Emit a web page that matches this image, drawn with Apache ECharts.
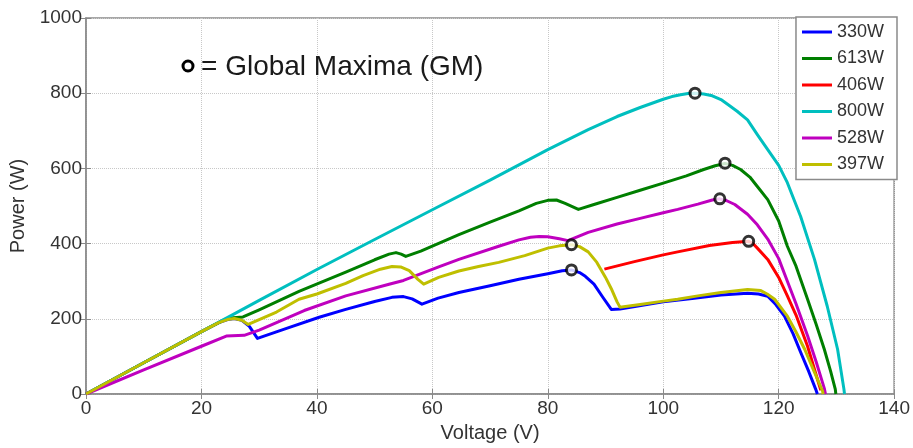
<!DOCTYPE html>
<html>
<head>
<meta charset="utf-8">
<script src="https://cdn.jsdelivr.net/npm/echarts@6/dist/echarts.min.js"></script>
<style>
  html, body { margin: 0; padding: 0; background: #fff; }
  #chart { width: 913px; height: 448px; }
</style>
</head>
<body>
<div id="chart"></div>
<script>
// P-V curves, [voltage (V), power (W)]
const curve330W = [[0,0],[10,83],[20,166],[23,190],[24.5,198],[25.7,201],[27,196],[28.3,180],[29.7,148],[35,176],[40.4,204],[45,225],[50,246],[53,257],[55,259],[56.5,253],[58.2,239],[61,255],[64.6,270],[70,288],[75,305],[80,320],[82.5,328],[84.1,330],[85.5,323],[86.5,313],[88,292],[89.5,258],[91,225],[92.5,226],[100,245],[105,254],[110,263],[114.6,268],[116.5,266],[118.1,260],[119.5,238],[121,207],[122.5,160],[123.8,111],[125.2,60],[126.4,13],[126.7,0]];
const curve613W = [[0,0],[10,83],[20,166],[24,198],[25.5,203],[27.2,205],[30,224],[36.9,273],[45,324],[50,357],[52.5,372],[53.7,376],[54.6,372],[55.4,366],[58,380],[64.6,424],[70,457],[75,487],[78,507],[80,515],[81.5,516],[83,507],[85.3,491],[88,504],[92,523],[96,542],[100,561],[104,580],[107,597],[109,607],[110.7,613],[112,608],[113.4,597],[115,577],[116.3,552],[118.1,517],[120,460],[121.5,393],[123,340],[125,252],[126.5,185],[127.9,119],[129,60],[129.8,13],[129.9,0]];
const curve406W = [[89.8,332],[95,352],[100,370],[102.5,378],[108,395],[112,403],[114.8,406],[115.5,401],[116.3,388],[118.1,358],[120,310],[121.5,261],[123,210],[125,127],[126.5,50],[127.3,10]];
const curve800W = [[0,0],[10,83],[20,166],[30,249],[40,331],[50,411],[60,490],[70,569],[80,650],[87,703],[92,738],[96,762],[100,784],[101.5,791],[103,796],[104.3,799],[105.5,800],[107,798],[108.5,793],[110,783],[111.2,770],[112.8,752],[114.6,729],[116.3,690],[118.1,650],[120,608],[121.5,562],[123.8,472],[126.2,358],[128.4,234],[130.2,119],[131.3,13],[131.4,0]];
const curve528W = [[0,0],[10,64],[20,127],[24.3,154],[27.4,156],[30,170],[37.8,222],[45,261],[52.5,292],[55,302],[61.1,338],[64.6,358],[71.5,393],[75,410],[77,417],[78.5,419],[80,418],[82,413],[83.5,408],[87,430],[92,452],[96,467],[100,482],[102.5,491],[106,505],[108.5,516],[109.8,519],[111,514],[112.4,504],[114.6,478],[116.3,450],[118.1,412],[120,360],[121.5,300],[123,240],[125,155],[126.5,85],[127.9,15],[128.1,0]];
const curve397W = [[0,0],[10,83],[20,166],[23,190],[24.5,198],[25.7,201],[27,196],[28.1,185],[30,198],[33,218],[36.9,252],[40,266],[45,294],[48,315],[51,332],[53,339],[54.5,338],[56,328],[57.5,305],[58.5,292],[61.1,310],[64.6,327],[68,339],[71.5,350],[76,368],[80,388],[82,394],[84.1,397],[85.5,392],[87,378],[88.5,350],[90,310],[91,280],[92,245],[92.5,231],[96,238],[100,247],[102.5,252],[106,261],[110,270],[114.6,278],[116.9,275],[118,266],[119.3,252],[121.5,207],[123,165],[124.5,119],[126,65],[127.6,8],[127.7,0]];
const globalMaxima = [[84.1,330],[84.1,397],[105.5,800],[110.7,614],[109.8,519],[114.8,406]];

const seriesNames = ['330W', '613W', '406W', '800W', '528W', '397W'];
const seriesData = [curve330W, curve613W, curve406W, curve800W, curve528W, curve397W];
const seriesColors = ['#0000ff', '#007f00', '#ff0000', '#00bfbf', '#bf00bf', '#bfbf00'];

const xTicks = { min: 0, max: 140, interval: 20 };
const yTicks = { min: 0, max: 1000, interval: 200 };

const font = "'Liberation Sans', Arial, sans-serif";
const frameColor = '#8a8a8a';

let series_arr = seriesData.map((d, i) => ({
  name: seriesNames[i],
  type: 'line',
  data: d,
  symbol: 'none',
  lineStyle: { width: 3, color: seriesColors[i], join: 'round' },
  itemStyle: { color: seriesColors[i] },
  z: 2
}));
series_arr.push({
  name: 'GM',
  type: 'scatter',
  data: globalMaxima,
  symbol: 'circle',
  symbolSize: 10,
  itemStyle: { color: '#fff', borderColor: '#000', borderWidth: 3 },
  z: 5
});

const sideAxis = {
  axisLine: { show: false },
  axisTick: { inside: true, length: 5, lineStyle: { color: frameColor } },
  axisLabel: { show: false },
  splitLine: { show: false }
};

let option = {
  animation: false,
  grid: {
    left: 86, right: 16, top: 18, bottom: 53,
    show: true, borderColor: frameColor, borderWidth: 1.5, backgroundColor: '#fff'
  },
  legend: {
    data: seriesNames,
    orient: 'vertical',
    icon: 'rect',
    right: 16, top: 17,
    padding: [5, 13, 5, 6],
    itemWidth: 30, itemHeight: 3, itemGap: 6.5,
    backgroundColor: '#fff',
    borderColor: frameColor, borderWidth: 1.5,
    textStyle: { fontFamily: font, fontSize: 18, lineHeight: 20, color: '#333' }
  },
  xAxis: [{
    type: 'value',
    min: xTicks.min, max: xTicks.max, interval: xTicks.interval,
    name: 'Voltage (V)', nameLocation: 'middle', nameGap: 29,
    nameTextStyle: { fontFamily: font, fontSize: 20, color: '#333' },
    axisLine: { show: true, lineStyle: { color: frameColor, width: 1.5 } },
    axisTick: { inside: true, length: 5, lineStyle: { color: frameColor } },
    axisLabel: { fontFamily: font, fontSize: 19, color: '#333', margin: 5 },
    splitLine: { lineStyle: { color: '#c8c8c8', type: 'dotted', width: 1 } }
  }, Object.assign({ type: 'value', position: 'top', min: xTicks.min, max: xTicks.max, interval: xTicks.interval }, sideAxis)],
  yAxis: [{
    type: 'value',
    min: yTicks.min, max: yTicks.max, interval: yTicks.interval,
    name: 'Power (W)', nameLocation: 'middle', nameGap: 57,
    nameTextStyle: { fontFamily: font, fontSize: 20, color: '#333' },
    axisLine: { show: true, lineStyle: { color: frameColor, width: 1.5 } },
    axisTick: { show: true, inside: true, length: 5, lineStyle: { color: frameColor } },
    axisLabel: { fontFamily: font, fontSize: 19, color: '#333', margin: 4, formatter: v => String(v) },
    splitLine: { lineStyle: { color: '#c8c8c8', type: 'dotted', width: 1 } }
  }, Object.assign({ type: 'value', position: 'right', min: yTicks.min, max: yTicks.max, interval: yTicks.interval }, sideAxis)],
  graphic: [{
    type: 'circle',
    shape: { cx: 188, cy: 66, r: 5 },
    style: { fill: '#fff', stroke: '#000', lineWidth: 3 },
    z: 10
  }, {
    type: 'text',
    x: 201, y: 67,
    style: {
      text: '= Global Maxima (GM)',
      font: '28px ' + font,
      fill: '#1a1a1a',
      verticalAlign: 'middle'
    },
    z: 10
  }],
  series: series_arr
};

let chart = echarts.init(document.getElementById('chart'));
chart.setOption(option);
</script>
</body>
</html>
